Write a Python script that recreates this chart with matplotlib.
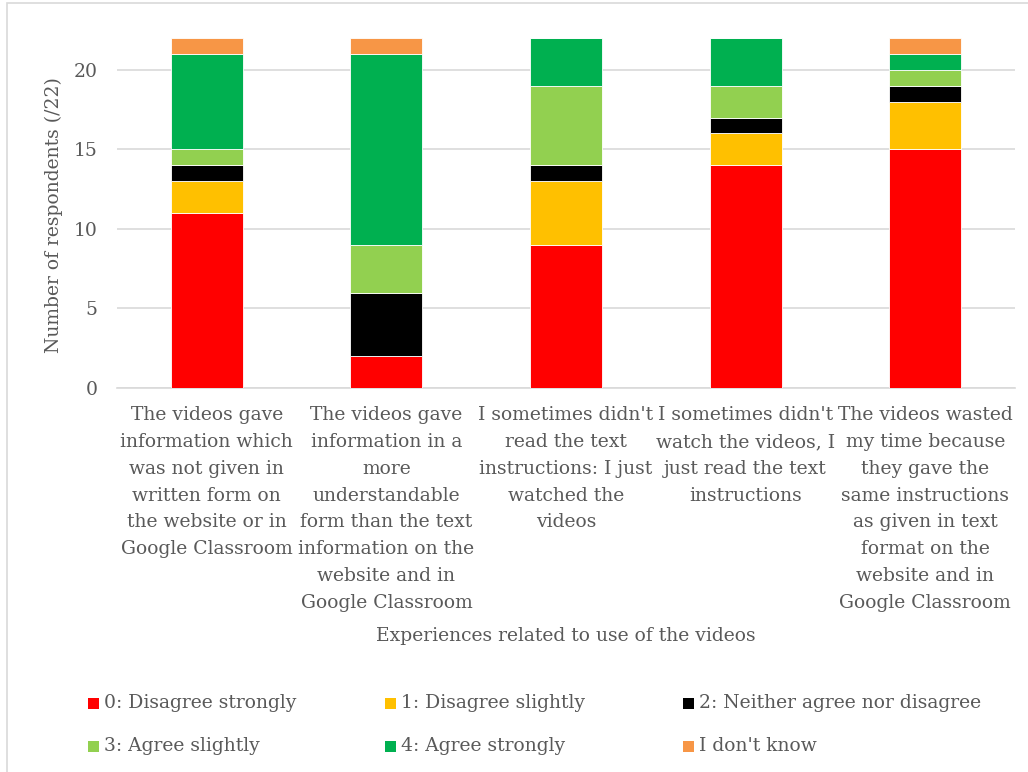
import matplotlib
matplotlib.use("Agg")
import matplotlib.pyplot as plt
from matplotlib.patches import Rectangle

categories = [
    "The videos gave\ninformation which\nwas not given in\nwritten form on\nthe website or in\nGoogle Classroom",
    "The videos gave\ninformation in a\nmore\nunderstandable\nform than the text\ninformation on the\nwebsite and in\nGoogle Classroom",
    "I sometimes didn't\nread the text\ninstructions: I just\nwatched the\nvideos",
    "I sometimes didn't\nwatch the videos, I\njust read the text\ninstructions",
    "The videos wasted\nmy time because\nthey gave the\nsame instructions\nas given in text\nformat on the\nwebsite and in\nGoogle Classroom",
]
series_names = ["0: Disagree strongly", "1: Disagree slightly", "2: Neither agree nor disagree",
                "3: Agree slightly", "4: Agree strongly", "I don't know"]
disagree_strongly = [11, 2, 9, 14, 15]
disagree_slightly = [2, 0, 4, 2, 3]
neither = [1, 4, 1, 1, 1]
agree_slightly = [1, 3, 5, 2, 1]
agree_strongly = [6, 12, 3, 3, 1]
dont_know = [1, 1, 0, 0, 1]
series = [disagree_strongly, disagree_slightly, neither, agree_slightly, agree_strongly, dont_know]
colors = ["#FF0000", "#FFC000", "#000000", "#92D050", "#00B050", "#F79646"]
yticks = [0, 5, 10, 15, 20]

FONT = "DejaVu Serif"
TXT = "#595959"
FS = 13.5

fig = plt.figure(figsize=(10.28, 7.72), dpi=100)
W, H = 1028, 772
ax = fig.add_axes([117 / W, 1 - 388 / H, (1015 - 117) / W, (388 - 38) / H])

x = list(range(len(categories)))
bottom = [0] * len(categories)
for vals, col, name in zip(series, colors, series_names):
    ax.bar(x, vals, width=0.4, bottom=bottom, color=col, edgecolor="white",
           linewidth=0.6, label=name, zorder=3)
    bottom = [b + v for b, v in zip(bottom, vals)]

ax.set_xlim(-0.5, len(categories) - 0.5)
ax.set_ylim(0, 22)
ax.set_yticks(yticks)
ax.yaxis.grid(True, color="#D9D9D9", linewidth=1.2, zorder=0)
ax.set_axisbelow(True)
for s in ["top", "right", "left"]:
    ax.spines[s].set_visible(False)
ax.spines["bottom"].set_color("#D9D9D9")
ax.spines["bottom"].set_linewidth(1.2)
ax.tick_params(axis="both", length=0, colors=TXT, labelsize=FS)
ax.tick_params(axis="y", pad=14)
ax.tick_params(axis="x", pad=13)
ax.set_xticks(x)
ax.set_xticklabels(categories, fontfamily=FONT, fontsize=FS, color=TXT,
                   linespacing=1.63, va="top", ha="center")
for lab in ax.get_yticklabels():
    lab.set_fontfamily(FONT)

fig.text(54 / W, 1 - 215 / H, "Number of respondents (/22)", rotation=90, ha="center", va="center",
         fontfamily=FONT, fontsize=FS, color=TXT)
fig.text(566 / W, 1 - 636 / H, "Experiences related to use of the videos", ha="center", va="center",
         fontfamily=FONT, fontsize=FS, color=TXT)

# legend (row-major, manual placement)
col_x = [88, 385, 683]
row_y = [703, 746]
msz = 11
for i, (name, col) in enumerate(zip(series_names, colors)):
    cx = col_x[i % 3]
    cy = row_y[i // 3]
    fig.patches.append(Rectangle((cx / W, 1 - (cy + msz / 2) / H), msz / W, msz / H,
                                 transform=fig.transFigure, facecolor=col, edgecolor="none"))
    fig.text((cx + msz + 5) / W, 1 - cy / H, name, ha="left", va="center",
             fontfamily=FONT, fontsize=FS, color=TXT)

# outer border
fig.patches.append(Rectangle((7 / W, -0.01), 1.02, 1 - 3 / H + 0.01, transform=fig.transFigure,
                             fill=False, edgecolor="#D9D9D9", linewidth=1.2))

fig.savefig("out.png", dpi=100, facecolor="white")
